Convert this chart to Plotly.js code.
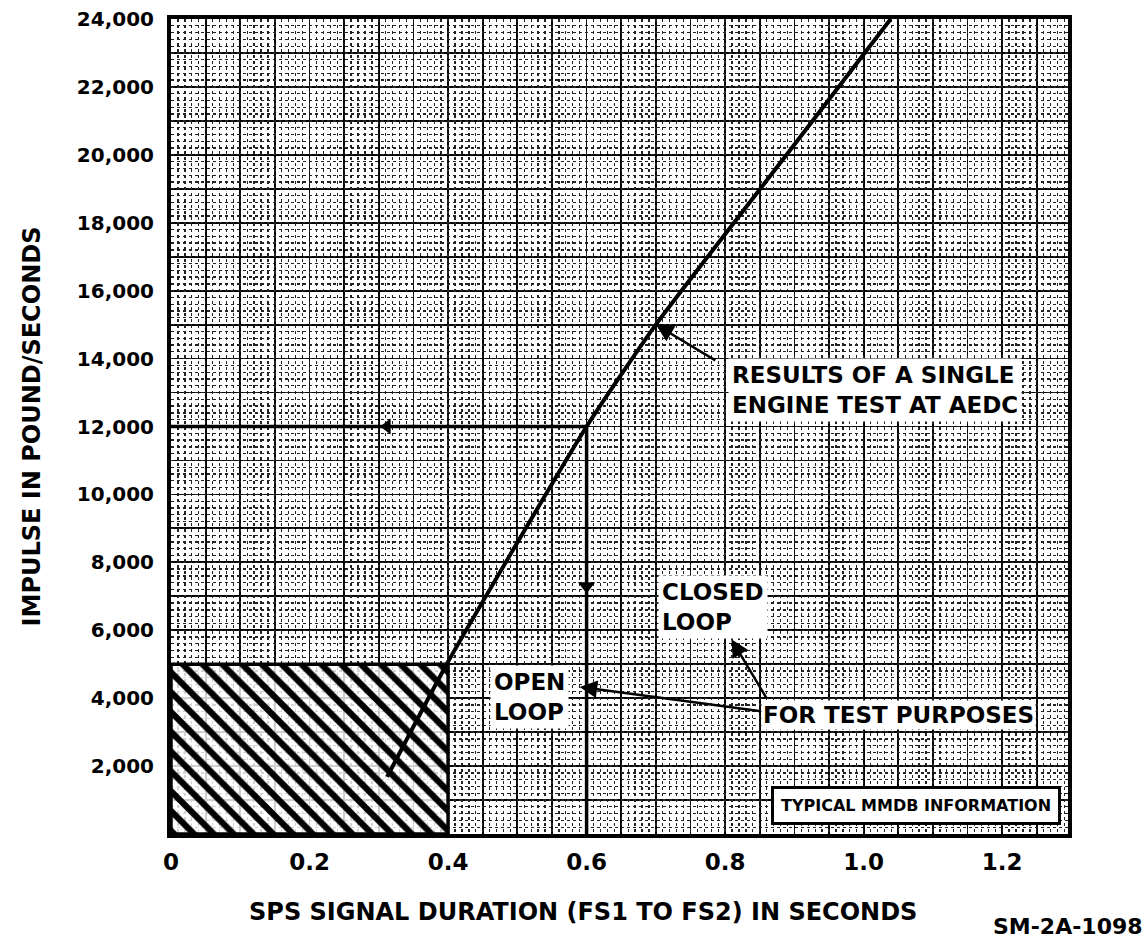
<!DOCTYPE html>
<html>
<head>
<meta charset="utf-8">
<script src="https://cdn.plot.ly/plotly-3.0.1.min.js"></script>
<style>html,body{margin:0;padding:0;background:#fff;}#chart{width:1148px;height:945px;}</style>
</head>
<body>
<div id="chart"></div>
<script>
// Results curve (single engine test at AEDC)
const curveX = [0.312, 0.398, 0.6, 0.7, 0.894, 1.039];
const curveY = [1680, 5000, 12000, 15000, 20140, 24000];

// Open / closed loop read-off path
const loopX = [0, 0.6, 0.6];
const loopY = [12000, 12000, 0];

// Hatched region (typical MMDB information)
const hatchX = [0, 0.4, 0.4, 0, 0];
const hatchY = [0, 0, 5000, 5000, 0];

// Arrow marks on the loop path
const arrowDownX = [0.6];
const arrowDownY = [7300];
const arrowLeftX = [0.312];
const arrowLeftY = [12000];

// Tick labels
const xTickVals = [0, 0.2, 0.4, 0.6, 0.8, 1.0, 1.2];
const xTickText = ['0', '0.2', '0.4', '0.6', '0.8', '1.0', '1.2'];
const yTickVals = [2000, 4000, 6000, 8000, 10000, 12000, 14000, 16000, 18000, 20000, 22000, 24000];
const yTickText = ['2,000', '4,000', '6,000', '8,000', '10,000', '12,000', '14,000', '16,000', '18,000', '20,000', '22,000', '24,000'];

const FONT = '"DejaVu Sans", sans-serif';
const XR = [0, 1.295];
const YR = [0, 24000];

const traces = [
  { // invisible trace to anchor the fine-grid overlay
    x: [0], y: [0], xaxis: 'x2', yaxis: 'y2', mode: 'markers',
    marker: {opacity: 0}, hoverinfo: 'skip', showlegend: false
  },
  {
    x: hatchX, y: hatchY, mode: 'lines', fill: 'toself',
    fillcolor: 'rgba(255,255,255,0.8)',
    fillpattern: {shape: '\\', fgcolor: '#000', bgcolor: 'rgba(255,255,255,0.8)', size: 14, solidity: 0.45},
    line: {color: '#000', width: 3.5}, showlegend: false, hoverinfo: 'skip'
  },
  {
    x: loopX, y: loopY, mode: 'lines',
    line: {color: '#000', width: 3.5}, showlegend: false
  },
  {
    x: curveX, y: curveY, mode: 'lines',
    line: {color: '#000', width: 4, shape: 'spline', smoothing: 0.5}, showlegend: false
  },
  {
    x: arrowDownX, y: arrowDownY, mode: 'markers',
    marker: {symbol: 'triangle-down', size: 15, color: '#000'}, showlegend: false
  },
  {
    x: arrowLeftX, y: arrowLeftY, mode: 'markers',
    marker: {symbol: 'triangle-left', size: 14, color: '#000'}, showlegend: false
  }
];

const txtFont = {family: FONT, size: 23, color: '#000', weight: 'bold'};

const annotations = [
  {x: 1.016, y: 13064, xref: 'x', yref: 'y', text: 'RESULTS OF A SINGLE<br>ENGINE TEST AT AEDC',
   showarrow: false, align: 'left', bgcolor: '#fff', font: txtFont, borderpad: 3},
  {x: 0.782, y: 6680, xref: 'x', yref: 'y', text: 'CLOSED<br>LOOP',
   showarrow: false, align: 'left', bgcolor: '#fff', font: txtFont, borderpad: 3},
  {x: 0.517, y: 4020, xref: 'x', yref: 'y', text: 'OPEN<br>LOOP',
   showarrow: false, align: 'left', bgcolor: '#fff', font: txtFont, borderpad: 3},
  {x: 1.051, y: 3517, xref: 'x', yref: 'y', text: 'FOR TEST PURPOSES',
   showarrow: false, align: 'left', bgcolor: '#fff', font: txtFont, borderpad: 1},
  {x: 1.075, y: 828, xref: 'x', yref: 'y', text: 'TYPICAL MMDB INFORMATION',
   showarrow: false, bgcolor: '#fff', bordercolor: '#000', borderwidth: 3, borderpad: 7,
   font: {family: FONT, size: 16, color: '#000', weight: 'bold'}},
  // arrows
  {x: 0.7, y: 15000, xref: 'x', yref: 'y', ax: 0.788, ay: 13922, axref: 'x', ayref: 'y',
   text: '', showarrow: true, arrowhead: 2, arrowsize: 1.4, arrowwidth: 2.5, arrowcolor: '#000'},
  {x: 0.59, y: 4330, xref: 'x', yref: 'y', ax: 0.854, ay: 3606, axref: 'x', ayref: 'y',
   text: '', showarrow: true, arrowhead: 2, arrowsize: 1.4, arrowwidth: 2.5, arrowcolor: '#000'},
  {x: 0.809, y: 5734, xref: 'x', yref: 'y', ax: 0.861, ay: 3960, axref: 'x', ayref: 'y',
   text: '', showarrow: true, arrowhead: 2, arrowsize: 1.4, arrowwidth: 2.5, arrowcolor: '#000'},
  // x-axis title (placed as in the original, left of plot centre)
  {x: 0.459, y: -0.096, xref: 'paper', yref: 'paper', xanchor: 'center', yanchor: 'middle',
   text: 'SPS SIGNAL DURATION (FS1 TO FS2) IN SECONDS', showarrow: false,
   font: {family: FONT, size: 24, color: '#000', weight: 'bold'}},
  {x: 1.086, y: -0.113, xref: 'paper', yref: 'paper', xanchor: 'right', yanchor: 'middle',
   text: 'SM-2A-1098', showarrow: false, font: {family: FONT, size: 22, color: '#000', weight: 'bold'}}
];

const layout = {
  width: 1148, height: 945,
  margin: {l: 171, r: 80, t: 19, b: 111},
  paper_bgcolor: '#fff', plot_bgcolor: '#fff',
  showlegend: false,
  xaxis: {
    range: XR, tickvals: xTickVals, ticktext: xTickText,
    showgrid: true, gridcolor: '#000', gridwidth: 1.8,
    minor: {dtick: 0.05, tick0: 0, showgrid: true, gridcolor: '#000', gridwidth: 1.8},
    showline: true, mirror: true, linecolor: '#000', linewidth: 4,
    ticks: '', ticklabelstandoff: 4, zeroline: false,
    tickfont: {family: FONT, size: 23, color: '#000', weight: 'bold'}
  },
  yaxis: {
    range: YR, tickvals: yTickVals, ticktext: yTickText,
    showgrid: true, gridcolor: '#000', gridwidth: 1.8,
    minor: {dtick: 1000, tick0: 0, showgrid: true, gridcolor: '#000', gridwidth: 1.8},
    showline: true, mirror: true, linecolor: '#000', linewidth: 4,
    ticks: '', ticklabelstandoff: 9, zeroline: false,
    tickfont: {family: FONT, size: 20, color: '#000', weight: 'bold'},
    title: {text: 'IMPULSE IN POUND/SECONDS', standoff: 30,
      font: {family: FONT, size: 24, color: '#000', weight: 'bold'}}
  },
  xaxis2: {
    overlaying: 'x', anchor: 'y2', range: XR, dtick: 0.01, tick0: 0,
    showgrid: true, gridcolor: '#222', gridwidth: 1.3, griddash: 'dot',
    showticklabels: false, ticks: '', zeroline: false, showline: false
  },
  yaxis2: {
    overlaying: 'y', anchor: 'x2', range: YR, dtick: 200, tick0: 0,
    showgrid: true, gridcolor: '#222', gridwidth: 1.3, griddash: 'dot',
    showticklabels: false, ticks: '', zeroline: false, showline: false
  },
  annotations: annotations
};

Plotly.newPlot('chart', traces, layout, {displayModeBar: false, staticPlot: true});
</script>
</body>
</html>
